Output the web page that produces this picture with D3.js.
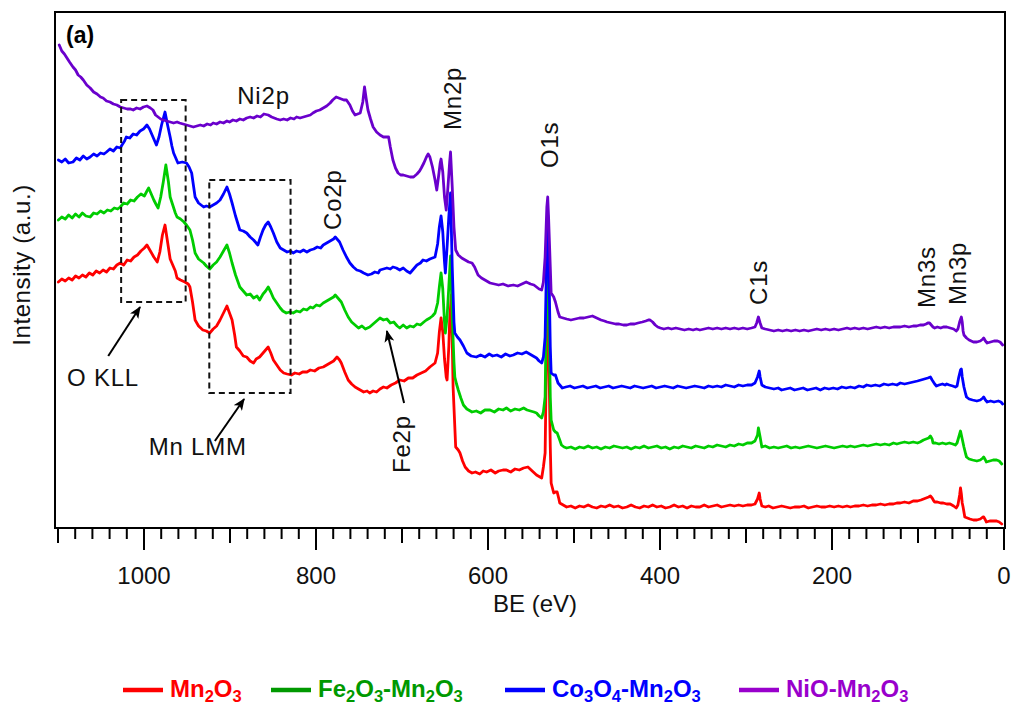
<!DOCTYPE html>
<html>
<head>
<meta charset="utf-8">
<script src="https://cdn.jsdelivr.net/npm/d3@7"></script>
<style>
  html, body { margin: 0; padding: 0; background: #fff; }
  svg { display: block; font-family: "Liberation Sans", Arial, sans-serif; }
</style>
</head>
<body>
<svg id="chart" width="1012" height="706"></svg>
<script>
// XPS survey spectra, binding energy (eV) vs stacked intensity (a.u.)
const seriesNames = ["Mn2O3", "Fe2O3-Mn2O3", "Co3O4-Mn2O3", "NiO-Mn2O3"];

const mn2o3 = [
[1099,245],[1095,248],[1091,246],[1087,249],[1083,247],[1079,251],[1075,249],[1071,252],[1067,250],[1063,254],[1059,252],[1055,256],[1051,254],[1047,257],[1043,255],[1039,259],[1035,258],[1031,262],[1027,264],[1023,262],[1019,267],[1015,266],[1011,270],[1007,272],[1003,276],[999,279],[996,282],[992,276],[988,270],[984,265],[981,275],[978,292],[975,302],[972,285],[969,268],[966,262],[963,256],[961,249],[957,247],[952,245],[948,243],[946,240],[943,225],[940,207],[936,201],[931,197],[927,196],[923,194],[919,198],[915,201],[911,207],[907,214],[903,221],[900,214],[897,207],[894,192],[892,180],[888,176],[884,171],[880,170],[876,166],[872,164],[869,168],[865,170],[861,174],[858,177],[855,180],[852,174],[849,167],[845,162],[841,157],[837,154],[833,153],[828,152],[824,154],[819,153],[815,155],[810,155],[806,157],[801,156],[796,159],[791,160],[787,162],[783,164],[779,166],[775,170],[772,167],[770,164],[766,155],[762,147],[758,143],[754,140],[748,137],[744,135],[740,136],[737,134],[733,136],[729,135],[725,138],[721,140],[717,139],[712,142],[707,144],[702,147],[697,146],[692,149],[687,149],[682,152],[677,154],[672,156],[667,160],[664,162],[661,164],[658,174],[656,195],[654,209],[652,195],[650,168],[648,150],[647,147],[645,180],[644,207],[642,232],[640,140],[637,80],[634,77],[632,74],[629,66],[626,60],[622,56],[618,54],[614,55],[609,53],[605,56],[601,55],[596,57],[591,54],[587,56],[582,57],[578,57],[573,55],[568,58],[563,57],[558,59],[553,60],[548,56],[543,52],[539,50],[537,49],[535,60],[533,74],[531,200],[530,227],[529,190],[527,80],[526,44],[523,34],[521,35],[519,35],[517,28],[516,24],[512,22],[508,20],[503,21],[498,19],[493,21],[488,20],[483,22],[478,20],[473,19],[468,21],[463,20],[458,22],[453,20],[448,21],[443,19],[438,20],[433,22],[428,20],[423,19],[418,21],[413,20],[408,22],[403,20],[398,21],[393,19],[388,20],[383,22],[378,20],[373,21],[368,19],[363,21],[358,20],[353,20],[348,22],[343,20],[338,21],[333,22],[328,20],[323,21],[318,22],[313,21],[308,22],[303,21],[298,22],[293,22],[289,23],[286,28],[284,34],[283,28],[281,21],[277,20],[273,21],[268,19],[263,20],[258,21],[253,20],[248,19],[243,20],[237,20],[232,21],[227,19],[222,20],[217,21],[212,20],[207,20],[202,21],[197,20],[192,21],[187,20],[182,21],[178,20],[173,21],[168,21],[163,22],[158,21],[153,22],[148,22],[143,23],[138,22],[133,23],[128,23],[124,24],[120,24],[115,25],[110,24],[105,26],[100,26],[96,27],[93,28],[90,29],[87,30],[85,31],[83,29],[81,26],[80,25],[77,25],[73,24],[70,24],[66,23],[62,23],[58,21],[55,19],[53,22],[51,32],[50,39],[49,33],[48,24],[47,20],[45,10],[42,9],[39,8],[35,7],[31,7],[27,8],[24,10],[23,10],[21,7],[20,5],[16,6],[12,6],[8,6],[5,5],[2,3]
];

const fe2o3_mn2o3 = [
[1099,307],[1095,310],[1091,308],[1087,312],[1083,309],[1079,313],[1075,310],[1071,314],[1067,311],[1062,310],[1058,314],[1054,313],[1050,316],[1046,314],[1042,317],[1038,316],[1034,319],[1030,318],[1027,320],[1023,324],[1019,323],[1015,327],[1011,326],[1007,330],[1003,333],[999,331],[996,336],[994,339],[991,333],[988,327],[985,322],[983,319],[980,330],[977,345],[974,362],[971,345],[969,330],[966,322],[963,314],[961,310],[957,308],[953,305],[950,302],[946,297],[943,287],[940,274],[936,268],[930,264],[927,261],[923,258],[919,262],[915,265],[911,270],[907,276],[903,282],[900,274],[897,264],[893,252],[888,240],[884,236],[880,232],[876,233],[872,229],[868,231],[865,227],[861,233],[858,236],[855,240],[852,235],[849,229],[845,224],[841,219],[838,216],[834,214],[830,215],[826,214],[822,216],[818,215],[814,218],[810,217],[806,220],[803,219],[799,222],[795,221],[791,224],[787,226],[783,228],[779,230],[777,232],[774,229],[770,225],[766,217],[762,210],[758,205],[754,202],[750,199],[746,201],[742,198],[737,200],[733,203],[729,206],[725,209],[721,207],[717,208],[713,204],[709,205],[705,201],[702,199],[698,202],[694,199],[690,201],[686,200],[682,203],[678,202],[674,205],[671,207],[667,209],[664,211],[661,214],[658,224],[656,240],[654,254],[652,238],[650,205],[649,194],[647,210],[645,240],[643,271],[641,210],[639,165],[638,150],[636,143],[634,137],[631,129],[628,122],[624,118],[618,115],[613,116],[608,114],[603,117],[597,117],[592,115],[587,118],[582,117],[578,119],[573,116],[568,118],[563,117],[558,119],[554,117],[550,116],[546,115],[543,114],[540,111],[537,109],[535,115],[533,130],[531,250],[530,277],[529,240],[527,130],[526,107],[523,97],[521,95],[519,94],[516,87],[514,82],[511,80],[508,79],[503,80],[498,78],[493,80],[488,79],[483,81],[478,79],[473,80],[468,78],[463,80],[458,79],[453,81],[448,80],[443,79],[438,80],[433,78],[428,80],[423,79],[418,81],[413,79],[408,80],[403,81],[398,79],[393,80],[388,78],[383,80],[378,79],[373,81],[368,80],[363,79],[358,81],[353,80],[348,79],[343,81],[338,80],[333,82],[328,81],[323,80],[318,82],[313,81],[308,83],[303,82],[298,84],[293,84],[289,86],[286,92],[285,99],[283,90],[281,80],[277,81],[272,79],[267,80],[262,79],[257,80],[252,81],[247,79],[242,80],[237,79],[232,80],[227,81],[222,80],[217,79],[212,80],[207,81],[202,80],[197,79],[192,80],[187,81],[182,80],[178,81],[173,80],[168,81],[163,82],[158,81],[153,82],[148,83],[143,82],[138,83],[133,82],[128,84],[124,83],[120,84],[115,85],[110,84],[105,85],[100,84],[97,85],[93,87],[90,88],[87,89],[85,91],[83,88],[82,84],[79,84],[75,83],[71,84],[67,83],[63,84],[59,83],[56,82],[54,84],[52,90],[50,96],[49,92],[47,84],[46,80],[44,73],[43,70],[40,68],[36,67],[31,66],[27,67],[24,69],[23,70],[21,67],[20,65],[16,66],[12,67],[8,67],[5,66],[2,63]
];

const co3o4_mn2o3 = [
[1099,367],[1095,365],[1091,368],[1087,364],[1082,365],[1078,369],[1074,367],[1070,371],[1066,368],[1062,370],[1058,373],[1054,371],[1050,374],[1046,373],[1043,375],[1039,378],[1035,376],[1031,380],[1027,379],[1025,382],[1022,386],[1020,390],[1016,389],[1012,393],[1008,392],[1004,396],[1000,398],[996,402],[993,398],[990,392],[987,386],[985,382],[982,390],[979,402],[975,415],[972,402],[969,390],[967,381],[965,374],[962,368],[960,364],[955,365],[950,364],[947,360],[944,354],[942,342],[940,330],[936,324],[930,320],[927,321],[923,320],[919,322],[915,324],[911,327],[907,333],[903,340],[900,333],[897,324],[893,311],[888,297],[884,296],[880,294],[876,290],[872,287],[867,282],[864,290],[861,297],[858,302],[855,305],[852,300],[849,294],[845,285],[841,279],[837,277],[833,275],[829,276],[826,274],[822,276],[818,275],[814,277],[810,275],[806,277],[802,278],[798,280],[794,279],[791,282],[787,284],[783,286],[779,288],[777,290],[775,288],[772,285],[768,277],[764,270],[760,264],[756,260],[752,257],[748,256],[744,254],[739,252],[735,253],[731,255],[727,254],[725,257],[721,258],[717,259],[713,258],[710,260],[706,259],[702,257],[698,259],[694,256],[690,254],[686,258],[682,262],[678,264],[675,267],[671,266],[667,268],[664,269],[661,270],[658,283],[656,300],[654,311],[652,295],[650,265],[649,254],[647,280],[645,310],[643,334],[641,260],[639,205],[638,194],[635,190],[632,187],[628,181],[624,174],[619,171],[613,170],[608,172],[603,170],[598,173],[594,171],[589,172],[584,170],[579,173],[574,171],[570,172],[565,174],[560,173],[555,175],[551,173],[547,171],[543,169],[540,166],[537,164],[535,170],[533,190],[531,280],[530,312],[529,280],[527,180],[526,154],[523,152],[521,152],[518,144],[515,141],[513,139],[509,140],[504,141],[499,139],[494,140],[489,141],[484,139],[479,140],[474,141],[469,139],[464,140],[459,141],[454,139],[449,140],[444,141],[439,140],[434,139],[429,141],[424,140],[419,139],[414,140],[409,141],[404,139],[399,140],[394,141],[389,140],[384,139],[379,141],[374,140],[369,139],[364,140],[359,141],[353,140],[348,139],[343,141],[338,140],[333,141],[328,140],[323,142],[318,141],[313,140],[308,142],[303,141],[298,142],[293,142],[289,144],[286,150],[284,156],[283,150],[281,142],[277,140],[272,139],[267,138],[262,139],[258,137],[253,138],[248,139],[243,137],[238,138],[233,139],[228,137],[223,138],[218,139],[213,137],[208,139],[203,138],[198,139],[193,138],[188,140],[183,139],[178,140],[173,139],[168,141],[163,140],[159,142],[154,141],[149,142],[144,141],[139,143],[134,142],[129,143],[124,142],[120,144],[115,143],[110,144],[105,145],[100,146],[96,147],[92,148],[88,149],[85,150],[83,147],[80,143],[78,141],[75,142],[71,143],[68,142],[66,143],[63,142],[59,141],[56,140],[54,141],[52,150],[50,157],[49,158],[48,150],[46,140],[44,133],[43,130],[40,128],[36,127],[31,126],[27,127],[24,129],[23,130],[21,127],[19,125],[15,126],[11,125],[6,126],[3,125],[1,123]
];

const nio_mn2o3 = [
[1098,482],[1095,476],[1092,473],[1089,469],[1086,465],[1082,460],[1079,457],[1076,452],[1073,450],[1070,447],[1066,442],[1062,439],[1058,435],[1054,433],[1050,430],[1047,429],[1043,426],[1039,425],[1035,423],[1031,422],[1027,420],[1023,419],[1019,418],[1015,418],[1012,417],[1008,419],[1004,418],[1000,420],[996,421],[992,419],[989,417],[986,412],[983,410],[980,408],[977,407],[973,406],[969,405],[965,404],[961,405],[958,404],[954,403],[950,402],[946,401],[942,400],[938,401],[934,402],[930,401],[926,403],[922,402],[919,404],[915,403],[911,405],[907,404],[903,406],[900,405],[896,407],[892,406],[888,408],[884,407],[880,409],[876,410],[872,409],[868,411],[864,410],[860,413],[855,412],[851,410],[848,409],[845,408],[841,407],[837,408],[833,407],[829,409],[825,408],[822,410],[818,409],[814,410],[810,411],[806,412],[803,414],[799,416],[795,417],[791,419],[787,421],[783,424],[780,427],[776,430],[773,429],[770,428],[767,427],[764,427],[760,422],[757,416],[754,412],[751,413],[748,414],[745,425],[743,440],[741,428],[739,417],[736,408],[733,400],[729,395],[725,392],[721,390],[718,390],[715,390],[713,380],[710,367],[707,359],[704,354],[701,352],[698,352],[694,351],[690,350],[686,350],[682,353],[679,356],[677,359],[674,364],[671,370],[669,373],[667,370],[664,360],[661,347],[659,337],[657,350],[655,364],[654,368],[652,355],[650,330],[648,317],[646,340],[644,365],[643,375],[641,340],[639,300],[637,277],[634,272],[630,269],[626,267],[622,265],[618,264],[615,260],[611,252],[607,249],[603,247],[597,244],[592,243],[587,242],[582,243],[576,241],[570,242],[565,241],[560,243],[555,245],[550,243],[546,242],[543,240],[540,238],[537,237],[535,245],[533,270],[531,320],[530,330],[529,310],[527,260],[526,234],[523,230],[521,225],[518,215],[516,210],[512,209],[508,208],[503,207],[498,208],[493,209],[488,209],[483,210],[478,211],[473,209],[468,207],[464,206],[461,205],[456,204],[451,203],[447,203],[442,202],[438,202],[434,203],[429,203],[425,204],[420,205],[416,206],[413,207],[411,207],[408,205],[405,202],[402,200],[399,199],[395,198],[390,199],[386,198],[381,199],[376,198],[371,197],[366,198],[361,197],[357,198],[353,197],[348,198],[343,199],[338,198],[333,199],[328,198],[323,199],[318,198],[313,199],[308,198],[303,199],[298,198],[293,199],[289,200],[287,204],[285,210],[283,204],[281,199],[277,198],[272,197],[267,196],[262,197],[257,196],[252,197],[247,196],[242,197],[237,196],[232,197],[227,196],[222,197],[217,198],[212,197],[207,198],[202,197],[197,198],[192,197],[187,198],[182,199],[178,198],[173,199],[168,198],[163,199],[158,198],[153,199],[148,200],[143,199],[138,200],[133,199],[128,200],[124,200],[120,200],[115,201],[110,200],[105,201],[101,201],[97,202],[93,202],[90,203],[88,204],[86,204],[84,202],[82,200],[80,199],[77,200],[73,199],[70,200],[66,200],[62,199],[58,198],[55,196],[53,198],[51,205],[49,210],[48,205],[47,196],[46,192],[43,189],[40,187],[35,185],[31,185],[27,186],[24,188],[23,189],[21,186],[19,184],[15,185],[11,186],[7,186],[4,185],[1,182]
];

const xTickLabels = [1000, 800, 600, 400, 200, 0];

// Peak labels: [text, BE, intensity, rotated]
const peakLabels = [
  ["Ni2p", 891, 423, false],
  ["Mn2p", 631, 397, true],
  ["O1s", 518, 359, true],
  ["Co2p", 770, 297, true],
  ["C1s", 275, 222, true],
  ["Mn3s", 80, 219, true],
  ["Mn3p", 44, 222, true],
  ["Fe2p", 690, 54, true],
  ["O KLL", 1089, 141, false],
  ["Mn LMM", 994, 72, false]
];

// Dashed regions: [BE from, BE to, intensity low, intensity high]
const augerBoxes = [
  [1026, 951, 225, 427],
  [923.5, 829, 134, 347]
];

// Arrows: [BE from, intensity from, BE to, intensity to]
const arrows = [
  [1041, 171, 1004, 220],
  [917, 86, 883, 128],
  [697, 124, 717, 196]
];

const lineColors = ["#ff0000", "#00cc00", "#0000ff", "#6a00cc"];
const legendColors = ["#ff0000", "#009900", "#0000ff", "#9900cc"];

const svg = d3.select("#chart");
const x = d3.scaleLinear().domain([1100, 0]).range([57.5, 1003.5]);
const y = d3.scaleLinear().domain([0, 515]).range([527, 12]);

// frame
svg.append("rect")
  .attr("x", 55).attr("y", 12).attr("width", 950).attr("height", 516)
  .attr("fill", "none").attr("stroke", "#000").attr("stroke-width", 2);

// bottom axis: minor, medium and major ticks
function tickAxis(step, size, labels) {
  const ax = d3.axisBottom(x)
    .tickValues(d3.range(0, 1101, step))
    .tickSize(size).tickSizeOuter(0).tickPadding(17)
    .tickFormat(labels ? (d => xTickLabels.includes(d) ? d : "") : () => "");
  const g = svg.append("g").attr("transform", "translate(0,528)").call(ax);
  g.select(".domain").remove();
  g.selectAll(".tick line").attr("stroke", "#000").attr("stroke-width", 2);
  g.selectAll(".tick text").attr("font-size", 24).attr("fill", "#111")
    .attr("font-family", "Liberation Sans, Arial, sans-serif");
  return g;
}
tickAxis(20, 11, false);
tickAxis(100, 15, false);
tickAxis(200, 22, true);

svg.append("text").attr("x", 535).attr("y", 612)
  .attr("text-anchor", "middle").attr("font-size", 24).attr("fill", "#111")
  .text("BE (eV)");

svg.append("text")
  .attr("transform", "translate(30,265) rotate(-90)")
  .attr("text-anchor", "middle").attr("font-size", 24).attr("fill", "#111")
  .attr("letter-spacing", 0.6)
  .text("Intensity (a.u.)");

svg.append("text").attr("x", 66).attr("y", 43)
  .attr("font-size", 23).attr("font-weight", "bold").text("(a)");

// spectra
const line = d3.line().x(d => x(d[0])).y(d => y(d[1]));
const allSeries = [mn2o3, fe2o3_mn2o3, co3o4_mn2o3, nio_mn2o3];
svg.append("clipPath").attr("id", "plotClip")
  .append("rect").attr("x", 56).attr("y", 13).attr("width", 948).attr("height", 514);
svg.append("g").attr("clip-path", "url(#plotClip)")
  .selectAll("path").data(allSeries).join("path")
  .attr("d", line)
  .attr("fill", "none")
  .attr("stroke", (d, i) => lineColors[i])
  .attr("stroke-width", 2.8)
  .attr("stroke-linejoin", "round")
  .attr("stroke-linecap", "round");

// dashed Auger regions
svg.selectAll("rect.box").data(augerBoxes).join("rect")
  .attr("class", "box")
  .attr("x", d => x(d[0])).attr("y", d => y(d[3]))
  .attr("width", d => x(d[1]) - x(d[0])).attr("height", d => y(d[2]) - y(d[3]))
  .attr("fill", "none").attr("stroke", "#111").attr("stroke-width", 2)
  .attr("stroke-dasharray", "6,4");

// arrows
svg.append("defs").append("marker")
  .attr("id", "arrowHead").attr("viewBox", "0 0 12 10")
  .attr("refX", 11).attr("refY", 5)
  .attr("markerWidth", 12).attr("markerHeight", 10)
  .attr("markerUnits", "userSpaceOnUse").attr("orient", "auto")
  .append("path").attr("d", "M0,0 L12,5 L0,10 L3,5 Z").attr("fill", "#000");
svg.selectAll("line.arrow").data(arrows).join("line")
  .attr("class", "arrow")
  .attr("x1", d => x(d[0])).attr("y1", d => y(d[1]))
  .attr("x2", d => x(d[2])).attr("y2", d => y(d[3]))
  .attr("stroke", "#000").attr("stroke-width", 2)
  .attr("marker-end", "url(#arrowHead)");

// peak labels
svg.selectAll("text.peak").data(peakLabels).join("text")
  .attr("class", "peak")
  .attr("transform", d => `translate(${x(d[1])},${y(d[2])})` + (d[3] ? " rotate(-90)" : ""))
  .attr("font-size", 24).attr("fill", "#111").attr("letter-spacing", 0.8)
  .text(d => d[0]);

// legend with chemical subscripts
const legendX = [123, 271, 505, 739];
const legend = svg.append("g");
seriesNames.forEach((name, i) => {
  const gx = legendX[i];
  legend.append("line")
    .attr("x1", gx).attr("x2", gx + 40).attr("y1", 690).attr("y2", 690)
    .attr("stroke", legendColors[i]).attr("stroke-width", 4.5);
  const t = legend.append("text").attr("x", gx + 47).attr("y", 697)
    .attr("font-size", 24).attr("font-weight", "bold").attr("fill", legendColors[i]);
  const parts = name.match(/(\d+|[^\d]+)/g);
  let shifted = false;
  parts.forEach(p => {
    const isSub = /^\d+$/.test(p);
    const ts = t.append("tspan").text(p);
    if (isSub) { ts.attr("font-size", 16.5).attr("dy", shifted ? 0 : 5); shifted = true; }
    else { if (shifted) ts.attr("dy", -5); shifted = false; }
  });
});
</script>
</body>
</html>
